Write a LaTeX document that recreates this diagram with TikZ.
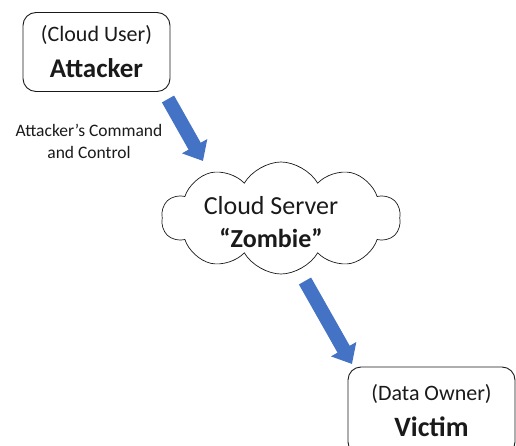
\documentclass[tikz,border=0pt]{standalone}
\usepackage{fontspec}
\setmainfont{Carlito}
\usetikzlibrary{shapes.symbols,arrows.meta}
\definecolor{officeblue}{HTML}{4472C4}
\definecolor{inkgray}{HTML}{1A1A1A}
\tikzset{
	rolebox/.style={draw=inkgray,line width=0.9pt,rounded corners=13pt,inner sep=0pt,
		align=center,text=inkgray,font=\fontsize{22}{36}\selectfont},
	cloudnode/.style={cloud,cloud puffs=10,cloud puff arc=120,cloud ignores aspect,draw=inkgray,
		line width=0.7pt,minimum width=239pt,minimum height=112pt,inner sep=0pt},
	cloudtext/.style={align=center,text=inkgray,font=\fontsize{26}{33}\selectfont},
	bigarrow/.style={draw=officeblue,line width=14pt,-{Triangle[length=17pt,width=28pt]}},
	smalllabel/.style={align=center,text=inkgray,font=\fontsize{17.5}{22}\selectfont}
}
\begin{document}
\begin{tikzpicture}[x=1pt,y=-1pt]
	\useasboundingbox (0,0) rectangle (516,446);
	\clip (0,0) rectangle (516,446);
	\node[rolebox,minimum width=147pt,minimum height=79pt] (attacker) at (96.5,52) {(Cloud User)\\{\fontsize{27}{27}\selectfont\bfseries Attacker}};
	\node[cloudnode] (server) at (281,218) {};
	\node[cloudtext] (servertext) at (271,222) {Cloud Server\\\textbf{“Zombie”}};
	\node[rolebox,minimum width=167pt,minimum height=88pt] (victim) at (431.5,411) {(Data Owner)\\{\fontsize{28}{28}\selectfont\bfseries Victim}};
	\node[smalllabel] (cmdlabel) at (89,141) {Attacker’s Command\\and Control};
	\coordinate (cmdtail) at (168,99);
	\coordinate (cmdhead) at (203,161);
	\coordinate (hittail) at (305,281);
	\coordinate (hithead) at (352,364);
	\draw[bigarrow] (cmdtail) -- (cmdhead);
	\draw[bigarrow] (hittail) -- (hithead);
\end{tikzpicture}
\end{document}
